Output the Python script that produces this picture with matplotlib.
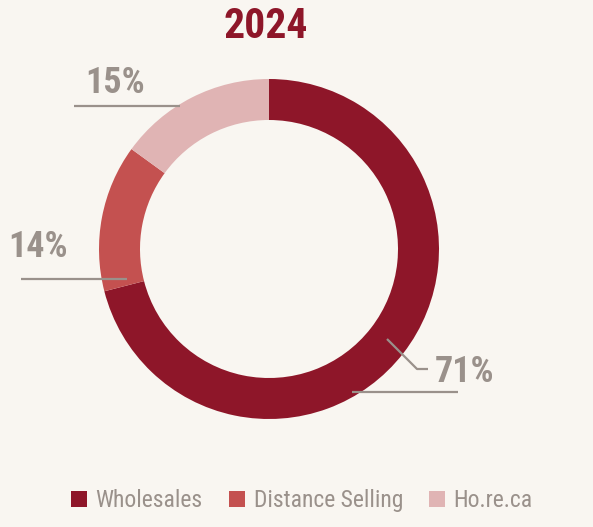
import matplotlib
matplotlib.use("Agg")
import matplotlib.pyplot as plt
from matplotlib import font_manager
from matplotlib.patches import Patch

# ── Data ─────────────────────────────────────────────────────────────
CATEGORIES = ["Wholesales", "Distance Selling", "Ho.re.ca"]
SHARES     = [71, 14, 15]
TITLE      = "2024"

COLORS = ["#8E1629", "#C45150", "#E0B4B4"]
BG     = "#F9F6F1"
GREY   = "#9A918B"

# pick a narrow face if one is around
have = {f.name for f in font_manager.fontManager.ttflist}
cands = ["Liberation Sans Narrow", "DejaVu Sans Condensed", "Roboto Condensed",
         "Open Sans Condensed", "Noto Sans Condensed", "Liberation Sans"]
FONT = [c for c in cands if c in have][:1] + ["DejaVu Sans"]
plt.rcParams["font.family"] = FONT

W, H = 593, 527
fig = plt.figure(figsize=(W / 100, H / 100), dpi=100, facecolor=BG)
ax = fig.add_axes([0, 0, 1, 1])
ax.set_facecolor(BG)

# donut, pixel coords (y up)
cx, cy, r = 269, 278, 170
wedges, _ = ax.pie(SHARES, colors=COLORS, startangle=90, counterclock=False,
                   radius=r, center=(cx, cy),
                   wedgeprops=dict(width=41, linewidth=0))

ax.set_xlim(0, W)
ax.set_ylim(0, H)
ax.set_aspect("equal")
ax.axis("off")

# title
ax.text(266, 500, TITLE, ha="center", va="center", fontsize=30,
        fontweight="bold", color="#8E1629")

# labels + leader lines
lab = dict(fontsize=26, fontweight="bold", color=GREY, ha="center", va="baseline")
ax.text(465, 145, f"{SHARES[0]}%", **lab)
ax.text(38, 270, f"{SHARES[1]}%", **lab)
ax.text(115, 434, f"{SHARES[2]}%", **lab)

lk = dict(color=GREY, lw=1.6, solid_capstyle="butt")
ax.plot([352, 458], [135, 135], **lk)
ax.plot([387, 417, 428], [188, 158, 158], **lk)
ax.plot([21, 127], [248, 248], **lk)
ax.plot([74, 180], [421, 421], **lk)

# legend
handles = [Patch(facecolor=c, edgecolor="none") for c in COLORS]
leg = fig.legend(handles, CATEGORIES, loc="lower center", ncol=3,
                 bbox_to_anchor=(0.509, -0.012), frameon=False,
                 fontsize=17, handlelength=0.7, handleheight=0.7,
                 handletextpad=0.35, columnspacing=1.1)
for t in leg.get_texts():
    t.set_color(GREY)

fig.savefig("out.png", dpi=100, facecolor=BG)
